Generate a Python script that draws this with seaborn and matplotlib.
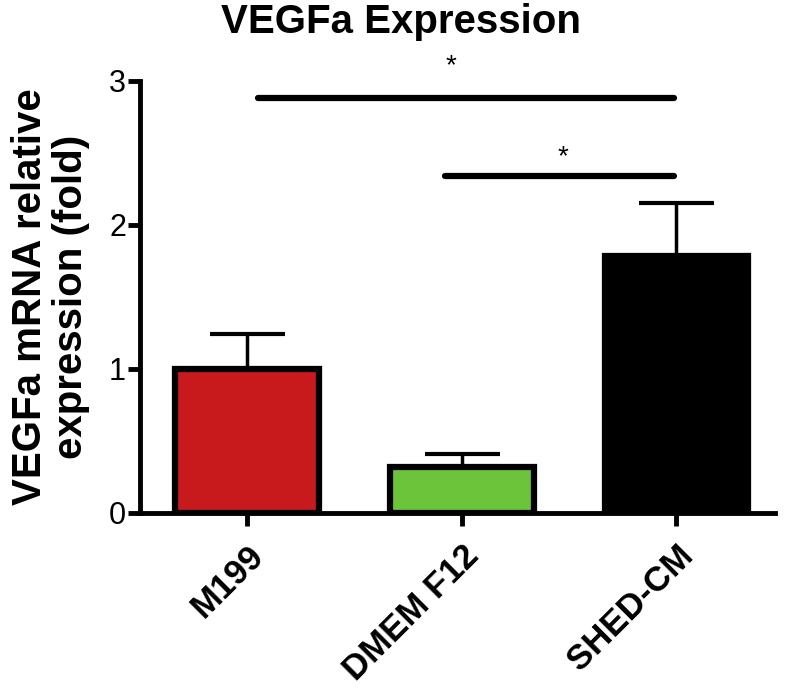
import pandas as pd
import matplotlib
matplotlib.use("Agg")
import matplotlib.pyplot as plt
import seaborn as sns

# values
groups = ["M199", "DMEM F12", "SHED-CM"]
expression = [1.00, 0.32, 1.78]
sem = [0.24, 0.09, 0.37]
bar_colors = ["#C8191C", "#6CC43A", "#000000"]

# significance brackets: (x start, x end, y, star x, star y)
sig_lines = [(0.05, 1.99, 2.88, 0.95, 3.10), (0.92, 1.99, 2.34, 1.47, 2.47)]

sns.set_style("ticks")
plt.rcParams["font.family"] = ["Liberation Sans", "DejaVu Sans"]
plt.rcParams.update({"text.color": "black", "axes.labelcolor": "black",
                     "xtick.color": "black", "ytick.color": "black",
                     "axes.edgecolor": "black"})

df = pd.DataFrame({"group": groups, "expression": expression})

fig = plt.figure(figsize=(7.91, 6.9), dpi=100)
ax = fig.add_axes([0.177, 0.257, 0.803, 0.626])

ax.errorbar(range(len(groups)), expression, yerr=[[0] * 3, sem], fmt="none",
            ecolor="black", elinewidth=2.5, capsize=27, capthick=3, zorder=1)
sns.barplot(data=df, x="group", y="expression", hue="group", palette=bar_colors,
            saturation=1, width=0.67, edgecolor="black", linewidth=4.5,
            legend=False, errorbar=None, ax=ax, zorder=2)

for x0, x1, y, sx, sy in sig_lines:
    ax.plot([x0, x1], [y, y], color="black", lw=4.5, solid_capstyle="round", clip_on=False)
    ax.text(sx, sy, "*", ha="center", va="center", fontsize=20, clip_on=False)

ax.set_xlim(-0.5, 2.46)
ax.set_ylim(0, 3)
ax.set_yticks([0, 1, 2, 3])
ax.set_yticklabels(["0", "1", "2", "3"], fontsize=22)
ax.set_xticks(range(len(groups)))
ax.set_xticklabels(groups, rotation=45, ha="right", rotation_mode="anchor",
                   fontsize=25, fontweight="bold")
ax.tick_params(axis="both", width=3.5, length=9, direction="out", pad=1)
ax.tick_params(axis="x", pad=10)
for side in ["left", "bottom"]:
    ax.spines[side].set_linewidth(3.5)
    ax.spines[side].set_color("black")
sns.despine(ax=ax)

ax.set_xlabel("")
ax.set_ylabel("VEGFa mRNA relative\nexpression (fold)", fontsize=29,
              fontweight="bold", labelpad=14, linespacing=1.1)
fig.text(0.507, 0.995, "VEGFa Expression", ha="center", va="top",
         fontsize=29, fontweight="bold")

fig.savefig("out.png", dpi=100)
